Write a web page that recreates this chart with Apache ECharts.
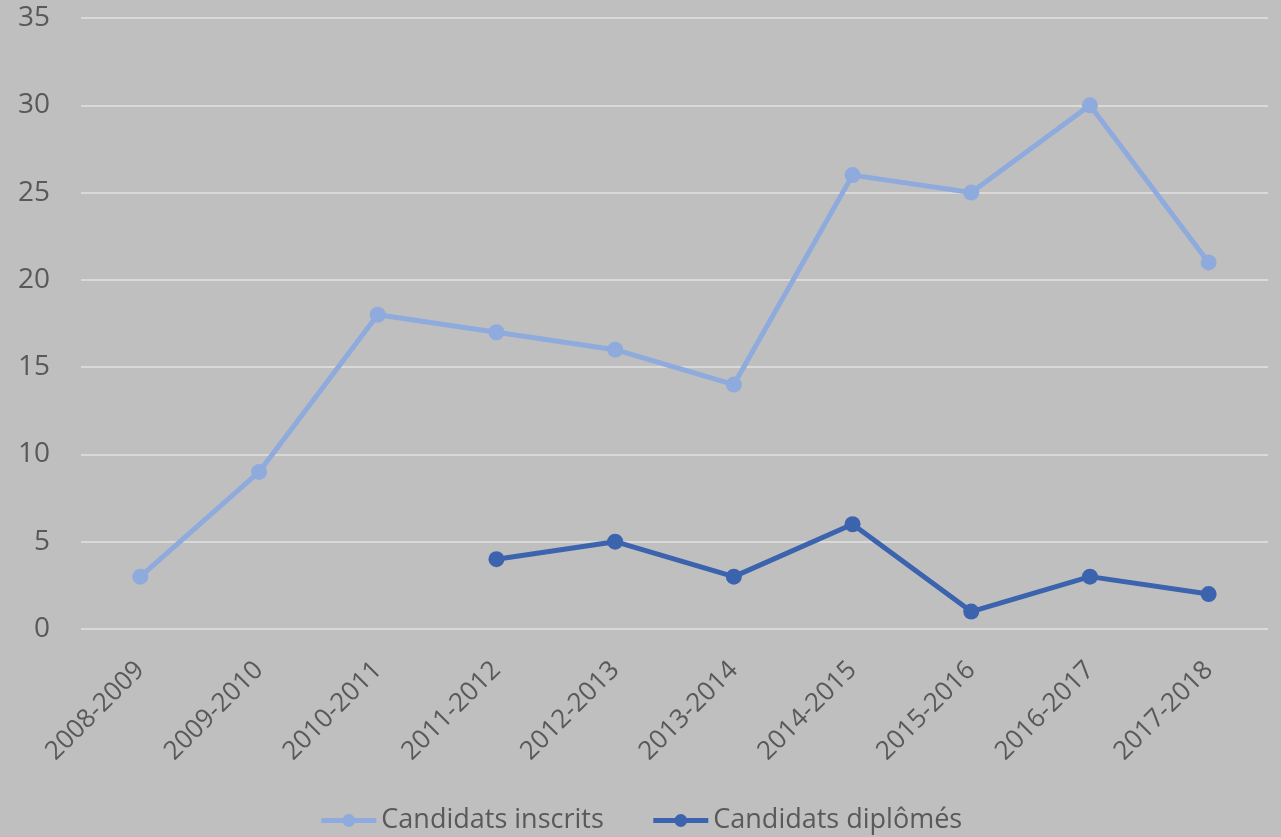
<!DOCTYPE html>
<html><head><meta charset="utf-8">
<script src="https://cdn.jsdelivr.net/npm/echarts@6/dist/echarts.min.js"></script>
<style>html,body{margin:0;padding:0;background:#BFBFBF;}#c{width:1281px;height:837px;}</style>
</head><body><div id="c"></div>
<script>
const categories = ['2008-2009','2009-2010','2010-2011','2011-2012','2012-2013','2013-2014','2014-2015','2015-2016','2016-2017','2017-2018'];
const inscrits = [3, 9, 18, 17, 16, 14, 26, 25, 30, 21];
const diplomes = [null, null, null, 4, 5, 3, 6, 1, 3, 2];
const yTicks = {min: 0, max: 35, interval: 5};

const chart = echarts.init(document.getElementById('c'), null, {renderer: 'canvas'});
const font = '"Open Sans", "Noto Sans", sans-serif';
chart.setOption({
  backgroundColor: '#BFBFBF',
  animation: false,
  textStyle: {fontFamily: font},
  grid: {left: 81, right: 13, top: 18, bottom: 208, containLabel: false},
  legend: {
    bottom: -2, left: 'center', itemWidth: 55, itemHeight: 16, itemGap: 47,
    lineStyle: {width: 5},
    textStyle: {color: '#595959', fontSize: 27, fontFamily: font},
    data: ['Candidats inscrits', 'Candidats diplômés']
  },
  xAxis: {
    type: 'category', data: categories, boundaryGap: true,
    axisLine: {show: false}, axisTick: {show: false},
    axisLabel: {rotate: 45, color: '#595959', fontSize: 26, margin: 37, interval: 0, fontFamily: font}
  },
  yAxis: {
    type: 'value', min: yTicks.min, max: yTicks.max, interval: yTicks.interval,
    axisLine: {show: false}, axisTick: {show: false},
    axisLabel: {color: '#595959', fontSize: 28, margin: 31, fontFamily: font},
    splitLine: {lineStyle: {color: '#D9D9D9', width: 2}}
  },
  series: [
    {name: 'Candidats inscrits', type: 'line', data: inscrits, symbol: 'circle', symbolSize: 16,
     lineStyle: {color: '#8FAADC', width: 5}, itemStyle: {color: '#8FAADC'}},
    {name: 'Candidats diplômés', type: 'line', data: diplomes, symbol: 'circle', symbolSize: 16, connectNulls: false,
     lineStyle: {color: '#3C63AE', width: 5}, itemStyle: {color: '#3C63AE'}}
  ]
});
</script></body></html>
